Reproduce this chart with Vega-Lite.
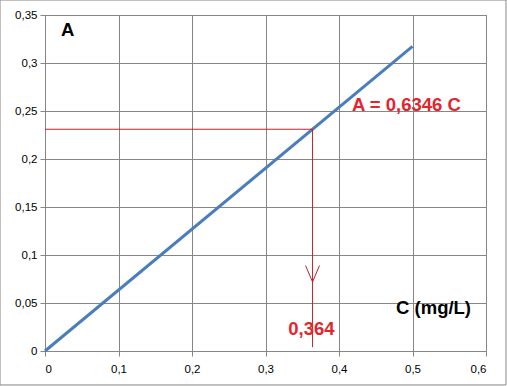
{
  "$schema": "https://vega.github.io/schema/vega-lite/v6.json",
  "width": 441,
  "height": 336,
  "autosize": {"type": "none"},
  "padding": {"left": 45, "top": 15, "right": 21, "bottom": 35},
  "background": "white",
  "config": {
    "locale": {"number": {"decimal": ",", "thousands": ".", "grouping": [3], "currency": ["", " €"]}},
    "view": {"stroke": "#868686", "strokeWidth": 1},
    "axis": {
      "gridColor": "#868686", "gridOpacity": 1, "gridWidth": 1,
      "domainColor": "#868686", "tickColor": "#868686", "tickSize": 5,
      "labelFont": "Liberation Sans", "labelFontSize": 11.5, "labelColor": "#000000",
      "title": null
    }
  },
  "layer": [
    {
      "data": {"values": [{"x0": -0.0612, "x1": 0.6272, "y0": -0.0354, "y1": 0.3656}]},
      "mark": {"type": "rect", "fill": null, "stroke": "#868686", "strokeWidth": 1, "clip": false},
      "encoding": {
        "x": {"field": "x0", "type": "quantitative", "scale": {"domain": [0, 0.6]},
              "axis": {"values": [0, 0.1, 0.2, 0.3, 0.4, 0.5, 0.6], "format": ".1~f", "labelPadding": 7, "grid": true}},
        "x2": {"field": "x1"},
        "y": {"field": "y0", "type": "quantitative", "scale": {"domain": [0, 0.35]},
              "axis": {"values": [0, 0.05, 0.1, 0.15, 0.2, 0.25, 0.3, 0.35], "format": ".2~f", "labelPadding": 3, "grid": true}},
        "y2": {"field": "y1"}
      }
    },
    {
      "data": {"values": [{"c": 0, "a": 0}, {"c": 0.5, "a": 0.3173}]},
      "mark": {"type": "line", "color": "#4a7ebb", "strokeWidth": 3},
      "encoding": {
        "x": {"field": "c", "type": "quantitative"},
        "y": {"field": "a", "type": "quantitative"}
      }
    },
    {
      "data": {"values": [
        {"x0": 0, "x1": 0.364, "y0": 0.231, "y1": 0.231},
        {"x0": 0.364, "x1": 0.364, "y0": 0.231, "y1": 0.004},
        {"x0": 0.3545, "x1": 0.364, "y0": 0.089, "y1": 0.072},
        {"x0": 0.3735, "x1": 0.364, "y0": 0.089, "y1": 0.072}
      ]},
      "mark": {"type": "rule", "color": "#c0232a", "strokeWidth": 1},
      "encoding": {
        "x": {"field": "x0", "type": "quantitative"},
        "x2": {"field": "x1"},
        "y": {"field": "y0", "type": "quantitative"},
        "y2": {"field": "y1"}
      }
    },
    {
      "data": {"values": [
        {"x": 0.031, "y": 0.334, "t": "A", "c": "black"},
        {"x": 0.5286, "y": 0.0448, "t": "C (mg/L)", "c": "black"},
        {"x": 0.3625, "y": 0.0229, "t": "0,364", "c": "red"}
      ]},
      "mark": {"type": "text", "font": "Liberation Sans", "fontSize": 18.5, "fontWeight": "bold", "baseline": "middle", "align": "center"},
      "encoding": {
        "x": {"field": "x", "type": "quantitative"},
        "y": {"field": "y", "type": "quantitative"},
        "text": {"field": "t"},
        "color": {"field": "c", "type": "nominal", "scale": {"domain": ["black", "red"], "range": ["#000000", "#e4252e"]}, "legend": null}
      }
    },
    {
      "data": {"values": [
        {"x": 0.4177, "y": 0.256, "t": "A = 0,6346 C"}
      ]},
      "mark": {"type": "text", "font": "Liberation Sans", "fontSize": 18.5, "fontWeight": "bold", "baseline": "middle", "align": "left", "color": "#e4252e"},
      "encoding": {
        "x": {"field": "x", "type": "quantitative"},
        "y": {"field": "y", "type": "quantitative"},
        "text": {"field": "t"}
      }
    }
  ]
}
